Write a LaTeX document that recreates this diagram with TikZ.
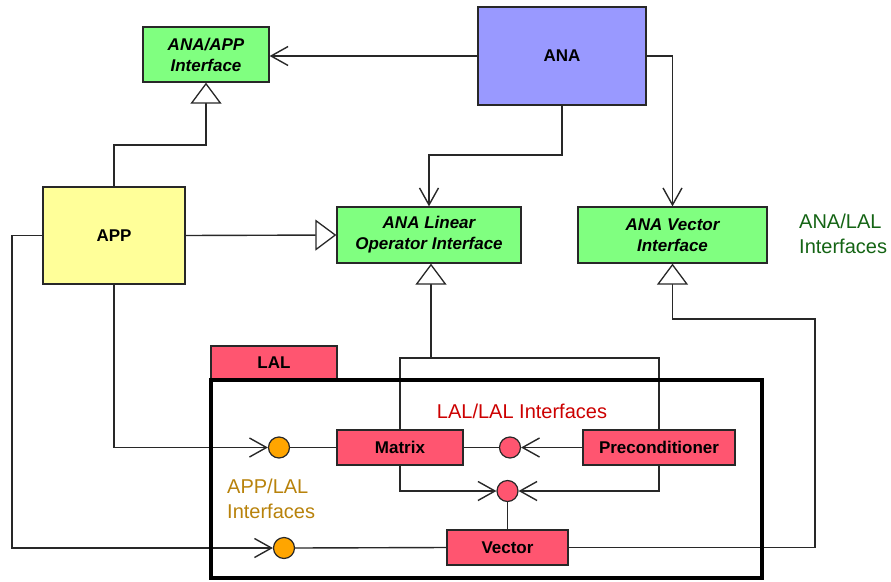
\documentclass[tikz,border=0pt]{standalone}
\usepackage{fontspec}
\setmainfont{Liberation Sans}
\usetikzlibrary{arrows.meta}
\definecolor{ifgreen}{RGB}{128,255,128}
\definecolor{anablue}{RGB}{153,153,255}
\definecolor{appyellow}{RGB}{255,255,153}
\definecolor{lalpink}{RGB}{255,85,112}
\definecolor{iforange}{RGB}{255,165,0}
\definecolor{txtgreen}{RGB}{20,100,20}
\definecolor{txtred}{RGB}{204,0,0}
\definecolor{txtgold}{RGB}{184,130,11}
\definecolor{edgegray}{RGB}{40,40,40}
\tikzset{
  box/.style={draw=edgegray, line width=1.3pt, inner sep=0pt, align=center,
    font=\fontsize{17}{20.5}\selectfont\bfseries},
  ifbox/.style={box, fill=ifgreen, font=\fontsize{17}{21}\selectfont\bfseries\itshape},
  lalbox/.style={box, fill=lalpink},
  port/.style={circle, draw=edgegray, line width=1.2pt, minimum size=21pt, inner sep=0pt},
  conn/.style={line width=1.4pt, edgegray},
  uses/.style={conn, -{Straight Barb[length=17pt,width=19pt,line width=1.4pt]}},
  inherit/.style={conn, -{Triangle[open,length=21pt,width=31pt,line width=1.3pt,fill=white]}},
  lbl/.style={font=\fontsize{20}{25}\selectfont, align=left, inner sep=0pt}
}
\begin{document}
\begin{tikzpicture}[x=1pt,y=-1pt]
\useasboundingbox (0,0) rectangle (891,581);
% nodes
\node[ifbox, minimum width=126pt, minimum height=55pt] (AAI) at (206,54.5) {ANA/APP\\Interface};
\node[box, fill=anablue, minimum width=168pt, minimum height=98pt] (ANA) at (562,56) {ANA};
\node[ifbox, minimum width=184pt, minimum height=56pt] (ALO) at (429,235) {ANA Linear\\Operator Interface};
\node[ifbox, minimum width=189pt, minimum height=56pt] (AVI) at (672.5,235) {ANA Vector\\Interface};
\node[box, fill=appyellow, minimum width=142pt, minimum height=97pt] (APP) at (114,235.5) {APP};
\node[lbl, txtgreen, anchor=west] (t1) at (799,234) {ANA/LAL\\Interfaces};
\node[lalbox, minimum width=126pt, minimum height=34pt] (tab) at (274,363) {LAL};
\node[lalbox, minimum width=126pt, minimum height=35pt] (Mat) at (400,447.5) {Matrix};
\node[lalbox, minimum width=152pt, minimum height=35pt] (Pre) at (659,447.5) {Preconditioner};
\node[lalbox, minimum width=121pt, minimum height=35pt] (Vec) at (507.5,547.5) {Vector};
\node[port, fill=iforange] (o1) at (279,447.5) {};
\node[port, fill=iforange] (o2) at (284,548) {};
\node[port, fill=lalpink] (r1) at (510,447.5) {};
\node[port, fill=lalpink] (r2) at (507.5,491) {};
\node[lbl, txtred, anchor=center] (t2) at (522,411) {LAL/LAL Interfaces};
\node[lbl, txtgold, anchor=west] (t3) at (227,499) {APP/LAL\\Interfaces};
% helper coordinates
\coordinate (anaBend) at (562,155);
\coordinate (appBend) at (114,145);
\coordinate (appLeft) at (12,235.5);
\coordinate (linJoin) at (431,358);
\coordinate (vecRight) at (815,319);
% connectors
\draw[uses] (ANA.west) -- (ANA.west -| AAI.east);
\draw[uses] (ANA.south) -- (anaBend) -| (ALO.north);
\draw[uses] (ANA.east) -| (AVI.north);
\draw[inherit] (APP.north) -- (appBend) -| (AAI.south);
\draw[inherit] (APP.east) -- (ALO.west);
\draw[inherit] (linJoin) -- (linJoin |- ALO.south);
\draw[conn] (Mat.north) |- (linJoin) -| (Pre.north);
\draw[inherit] (Vec.east) -| (vecRight) -| (AVI.south);
\draw[uses] (APP.south) |- (o1.west);
\draw[uses] (APP.west) -- (appLeft) |- (o2.west);
\draw[conn] (o1.east) -- (Mat.west);
\draw[conn] (o2.east) -- (Vec.west);
\draw[conn] (r1.west) -- (Mat.east);
\draw[uses] (Pre.west) -- (r1.east);
\draw[uses] (Mat.south) |- (r2.west);
\draw[uses] (Pre.south) |- (r2.east);
\draw[conn] (Vec.north) -- (r2.south);
% LAL package frame
\node[draw=black, line width=3.5pt, minimum width=551pt, minimum height=198pt, inner sep=0pt] (lalframe) at (486.5,479) {};
\end{tikzpicture}
\end{document}
